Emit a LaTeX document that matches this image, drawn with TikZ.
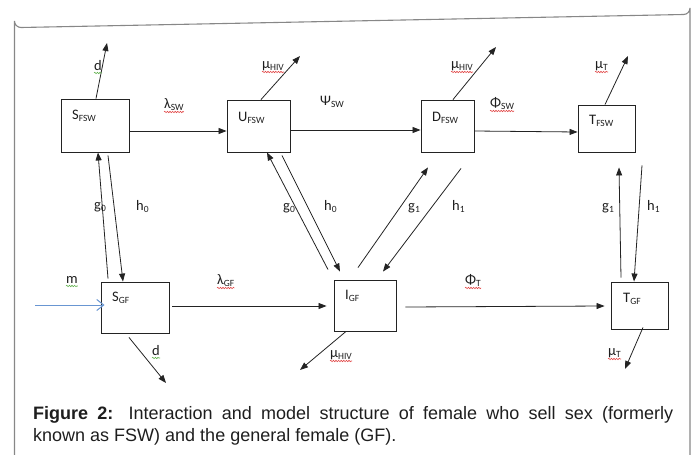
\documentclass[tikz,border=0pt]{standalone}
\usepackage{fontspec}
\setmainfont{Carlito}
\newfontfamily\capfont{Liberation Sans}
\usetikzlibrary{arrows.meta,decorations.pathmorphing}
\definecolor{framec}{RGB}{135,135,135}
\definecolor{linec}{RGB}{35,35,35}
\definecolor{bluec}{RGB}{105,150,210}
\definecolor{squigr}{RGB}{225,70,70}
\definecolor{squigg}{RGB}{95,175,75}
\definecolor{txtc}{RGB}{30,30,30}
\newcommand\sbs[1]{\raisebox{-2.5pt}{\fontsize{9.5}{10}\selectfont #1}}
\begin{document}
\begin{tikzpicture}[x=1pt,y=-1pt,
  box/.style={draw=linec, line width=0.9pt, inner sep=0pt},
  lab/.style={inner sep=0pt, anchor=base west, text=txtc, font=\fontsize{14.5}{16}\selectfont},
  arr/.style={draw=linec, line width=0.8pt, -{Triangle[length=8pt,width=6pt]}},
  inflow/.style={draw=bluec, line width=1pt, -{Straight Barb[length=7pt,width=11pt]}},
  squig/.style={decorate, decoration={snake, amplitude=0.7pt, segment length=2.6pt}, line width=0.6pt},
  frame/.style={draw=framec, line width=1.1pt}
]
\useasboundingbox (0,0) rectangle (699,455);
% frame
\draw[frame] (14.5,455) -- (14.5,21) arc[start angle=180, end angle=90, radius=6.5] -- (683.5,14.5) arc[start angle=90, end angle=0, radius=6.5] -- (690,455);

% boxes
\node[box, minimum width=68pt, minimum height=53pt] (sfsw) at (95,125.5) {};
\node[box, minimum width=63pt, minimum height=52pt] (ufsw) at (258.5,126) {};
\node[box, minimum width=53pt, minimum height=52pt] (dfsw) at (447.5,126) {};
\node[box, minimum width=57pt, minimum height=47pt] (tfsw) at (606.5,128.5) {};
\node[box, minimum width=68pt, minimum height=51pt] (sgf) at (135,307.5) {};
\node[box, minimum width=62pt, minimum height=51pt] (igf) at (365,305.5) {};
\node[box, minimum width=57pt, minimum height=47pt] (tgf) at (639.5,305.5) {};

% box labels
\node[lab] (lsfsw) at (72,119) {S\sbs{FSW}};
\node[lab] (lufsw) at (238,121) {U\sbs{FSW}};
\node[lab] (ldfsw) at (432,121) {D\sbs{FSW}};
\node[lab] (ltfsw) at (589,124) {T\sbs{FSW}};
\node[lab] (lsgf) at (112,301) {S\sbs{GF}};
\node[lab] (ligf) at (345,299) {I\sbs{GF}};
\node[lab] (ltgf) at (623,302) {T\sbs{GF}};

% free ends
\coordinate (e1) at (107,43);
\coordinate (e2) at (300,56);
\coordinate (e3) at (496,47);
\coordinate (e4) at (628,56);
\coordinate (e5) at (35,305);
\coordinate (e6) at (166,383);
\coordinate (e7) at (300,370);
\coordinate (e8) at (625,369);

% top row
\draw[arr] ([xshift=1pt]sfsw.north) -- (e1);
\draw[arr] ([yshift=-5.5pt]sfsw.east) -- ([yshift=-5pt]ufsw.west);
\draw[arr] ([xshift=2.5pt]ufsw.north) -- (e2);
\draw[arr] ([yshift=-4pt]ufsw.east) -- ([yshift=-4pt]dfsw.west);
\draw[arr] ([xshift=5.5pt]dfsw.north) -- (e3);
\draw[arr] ([yshift=-5pt]dfsw.east) -- ([yshift=-3.5pt]tfsw.west);
\draw[arr] ([xshift=-1.5pt]tfsw.north) -- (e4);

% S_FSW <-> S_GF
\draw[arr] ([xshift=-27pt,yshift=3pt]sgf.north) -- ([xshift=3pt]sfsw.south);
\draw[arr] ([xshift=13pt,yshift=-3pt]sfsw.south) -- ([xshift=-12pt]sgf.north);

% U_FSW <-> I_GF
\draw[arr] ([xshift=-37pt,yshift=10pt]igf.north) -- ([xshift=8.5pt]ufsw.south);
\draw[arr] ([xshift=23.5pt,yshift=-3pt]ufsw.south) -- ([xshift=-25pt,yshift=8pt]igf.north);

% D_FSW <-> I_GF
\draw[arr] ([xshift=-7pt,yshift=12pt]igf.north) -- ([xshift=-19.5pt,yshift=-15pt]dfsw.south);
\draw[arr] ([xshift=13.5pt,yshift=-16pt]dfsw.south) -- ([xshift=18pt,yshift=8pt]igf.north);

% T_FSW <-> T_GF
\draw[arr] ([xshift=-18.5pt,yshift=4pt]tgf.north) -- ([xshift=12.5pt,yshift=-15pt]tfsw.south);
\draw[arr] ([xshift=35.5pt,yshift=-13pt]tfsw.south) -- ([xshift=-5.5pt]tgf.north);

% bottom row
\draw[inflow] (e5) -- ([xshift=4pt,yshift=2.5pt]sgf.west);
\draw[arr] ([xshift=-6pt,yshift=-4pt]sgf.south) -- (e6);
\draw[arr] ([xshift=3pt,yshift=1.5pt]sgf.east) -- ([xshift=-7pt,yshift=-0.5pt]igf.west);
\draw[arr] ([xshift=-19pt]igf.south) -- (e7);
\draw[arr] ([xshift=9pt,yshift=-1.5pt]igf.east) -- ([xshift=-6pt,yshift=-0.5pt]tgf.west);
\draw[arr] ([xshift=3.5pt,yshift=2pt]tgf.south) -- (e8);

% rate labels
\node[lab] (ld1) at (94,70) {d};
\node[lab] (llsw) at (164,108) {λ\sbs{SW}};
\node[lab] (lmu1) at (262,68) {μ\sbs{HIV}};
\node[lab] (lpsi) at (320,105) {Ψ\sbs{SW}};
\node[lab] (lmu2) at (451,68) {μ\sbs{HIV}};
\node[lab] (lphs) at (490,107) {Φ\sbs{SW}};
\node[lab] (lmut1) at (595,68) {μ\sbs{T}};
\node[lab] (lg0a) at (94,209) {g\sbs{0}};
\node[lab] (lh0a) at (136,210) {h\sbs{0}};
\node[lab] (lg0b) at (283,210) {g\sbs{0}};
\node[lab] (lh0b) at (324,210) {h\sbs{0}};
\node[lab] (lg1a) at (408,210) {g\sbs{1}};
\node[lab] (lh1a) at (452,210) {h\sbs{1}};
\node[lab] (lg1b) at (602,210) {g\sbs{1}};
\node[lab] (lh1b) at (647,210) {h\sbs{1}};
\node[lab] (lm) at (66,283) {m};
\node[lab] (llgf) at (217,284) {λ\sbs{GF}};
\node[lab] (ld2) at (152,355) {d};
\node[lab] (lmu3) at (330,357) {μ\sbs{HIV}};
\node[lab] (lpht) at (465,284) {Φ\sbs{T}};
\node[lab] (lmut2) at (608,355) {μ\sbs{T}};

% spell-check squiggles
\foreach \n in {llsw,lmu1,lmu2,lphs,lmut1,llgf,lmu3,lpht,lmut2}
  \draw[squig, draw=squigr] ([yshift=-4pt]\n.base west) -- ([yshift=-4pt]\n.base east);
\foreach \n in {ld1,lm,ld2}
  \draw[squig, draw=squigg] ([yshift=-3pt]\n.base west) -- ([yshift=-3pt]\n.base east);

% caption
\node[anchor=north west, inner sep=0pt, text width=640pt, align=justify,
      font=\capfont\fontsize{18}{22.5}\selectfont, text=txtc] (cap) at (33,406)
  {\textbf{Figure 2:} Interaction and model structure of female who sell sex (formerly\linebreak known as FSW) and the general female (GF).};
\end{tikzpicture}
\end{document}
